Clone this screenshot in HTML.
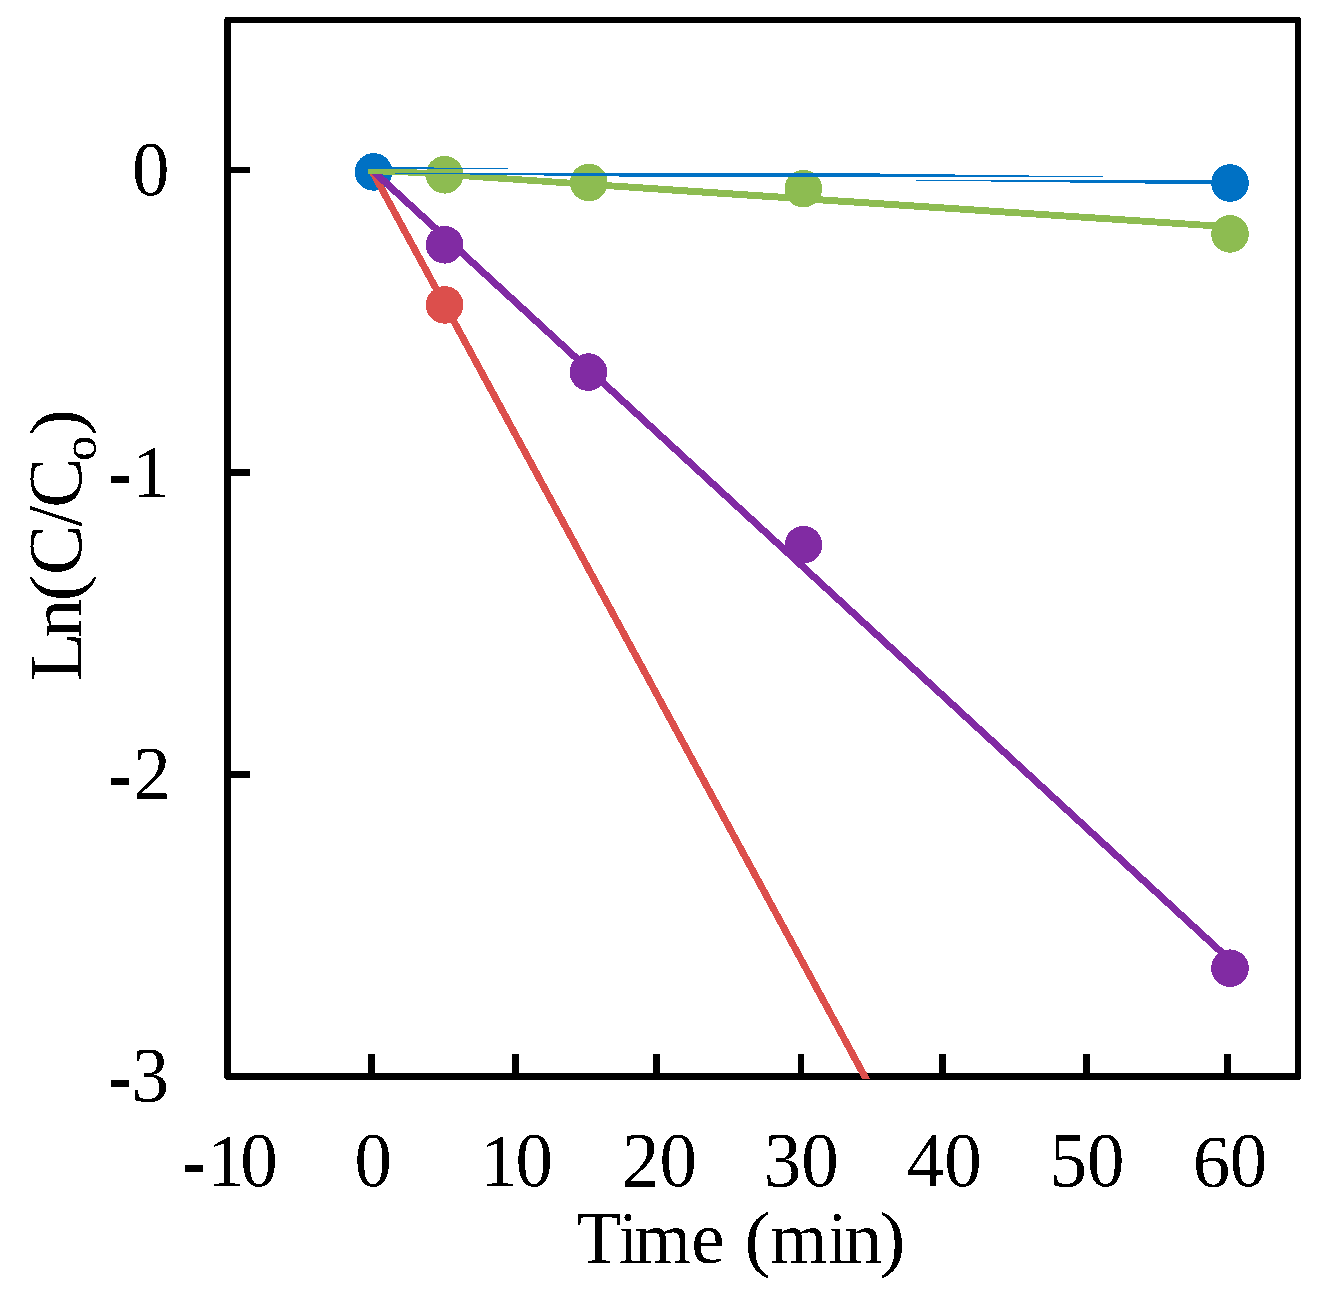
<!DOCTYPE html>
<html>
<head>
<meta charset="utf-8">
<title>Ln(C/Co) vs Time</title>
<style>
  html, body { margin: 0; padding: 0; background: #ffffff; }
  body { width: 1322px; height: 1289px; overflow: hidden; }
  svg { display: block; }
  text { font-family: "Liberation Serif", serif; fill: #000; }
</style>
</head>
<body>
<svg width="1322" height="1289" viewBox="0 0 1322 1289">
  <defs>
    <clipPath id="plotclip"><rect x="224" y="17" width="1077" height="1062"/></clipPath>
    <filter id="bw" x="-10%" y="-10%" width="120%" height="120%" color-interpolation-filters="sRGB">
      <feComponentTransfer><feFuncA type="discrete" tableValues="0 1"/></feComponentTransfer>
    </filter>
  </defs>
  <rect x="0" y="0" width="1322" height="1289" fill="#ffffff"/>

  <!-- axis frame -->
  <g fill="#000000" shape-rendering="crispEdges">
    <path fill-rule="evenodd" d="M225,17 H1300 V18 H1301 V1079 H1300 V1080 H226 V1079 H225 V1078 H224 V19 H225 Z M231,23 H1295 V1073 H231 Z"/>
    <!-- x ticks -->
    <rect x="368" y="1054" width="7" height="20"/>
    <rect x="512" y="1054" width="7" height="20"/>
    <rect x="653" y="1054" width="7" height="20"/>
    <rect x="798" y="1054" width="6" height="20"/>
    <rect x="939" y="1054" width="7" height="20"/>
    <rect x="1083" y="1054" width="7" height="20"/>
    <rect x="1224" y="1054" width="7" height="20"/>
    <!-- y ticks -->
    <rect x="230" y="167" width="20" height="6"/>
    <rect x="230" y="469" width="20" height="7"/>
    <rect x="230" y="771" width="20" height="7"/>
  </g>

  <!-- markers -->
  <g shape-rendering="crispEdges">
    <circle cx="444.6" cy="304.9" r="18.8" fill="#DC4F4C"/>
    <circle cx="444.6" cy="244.8" r="18.8" fill="#812BA3"/>
    <circle cx="588.4" cy="372.1" r="18.8" fill="#812BA3"/>
    <circle cx="803.5" cy="544.7" r="18.8" fill="#812BA3"/>
    <circle cx="1230" cy="968.2" r="18.8" fill="#812BA3"/>
    <circle cx="444.6" cy="174.8" r="18.8" fill="#8DBC51"/>
    <circle cx="588.8" cy="182.5" r="18.8" fill="#8DBC51"/>
    <circle cx="803.4" cy="188.6" r="18.8" fill="#8DBC51"/>
    <circle cx="1230" cy="233.9" r="18.8" fill="#8DBC51"/>
    <circle cx="373.6" cy="171.9" r="18.8" fill="#0071C4"/>
    <circle cx="1230" cy="183" r="18.8" fill="#0071C4"/>
  </g>

  <!-- trend lines -->
  <g shape-rendering="crispEdges" fill="none" stroke-width="6.7" clip-path="url(#plotclip)">
    <line x1="372.3" y1="171.5" x2="872.3" y2="1090.4" stroke="#DC4F4C" stroke-width="7"/>
    <line x1="373.9" y1="171.7" x2="1230" y2="960.1" stroke="#812BA3" stroke-width="7.1"/>
    <polygon points="368,169.2 412,169.2 1230,223.5 1230,230.3 700,195.4 415,175.8 368,173.9" fill="#8DBC51" stroke="none"/>
  </g>
  <g shape-rendering="crispEdges" fill="#0071C4">
    <!-- slab 1 -->
    <rect x="380" y="167" width="54" height="2"/>
    <rect x="434" y="168" width="74" height="1"/>
    <!-- slab 2 -->
    <rect x="395" y="173" width="485" height="1"/>
    <rect x="469.5" y="174" width="485.3" height="1"/>
    <rect x="544.2" y="175" width="484.5" height="1"/>
    <rect x="619" y="176" width="484" height="1"/>
    <!-- slab 3 -->
    <rect x="916" y="180" width="314" height="1"/>
    <rect x="991" y="181" width="239" height="1"/>
    <rect x="1070" y="182" width="160" height="1"/>
    <rect x="1145" y="183" width="85" height="1"/>
  </g>

  <g filter="url(#bw)">
  <!-- x tick labels -->
  <g font-size="75" text-anchor="middle">
    <text x="226" y="1186.3">1</text><text transform="translate(259.05,1186.2) scale(1,1.035)">0</text>
    <text transform="translate(373.3,1186.2) scale(1,1.035)">0</text>
    <text x="498.8" y="1186.3">1</text><text transform="translate(534.35,1186.2) scale(1,1.035)">0</text>
    <text transform="translate(659.4,1186.2) scale(1,1.035)">20</text>
    <text transform="translate(801.3,1186.2) scale(1,1.035)">30</text>
    <text transform="translate(944.2,1186.2) scale(1,1.035)">40</text>
    <text transform="translate(1087.1,1186.2) scale(1,1.035)">50</text>
    <text x="1211.5" y="1187">6</text><text transform="translate(1248.55,1186.2) scale(1,1.035)">0</text>
  </g>
  <!-- y tick labels -->
  <g font-size="75" text-anchor="end">
    <text transform="translate(169.4,195.2) scale(1,1.035)">0</text>
    <text x="170" y="497">1</text>
    <text transform="translate(170.8,798.8) scale(1,1.02)">2</text>
    <text transform="translate(169,1101.4) scale(1,1.035)">3</text>
  </g>
  <!-- minus signs -->
  <g fill="#000">
    <rect x="184.6" y="1164.6" width="18.6" height="7.4"/>
    <rect x="110.9" y="475.9" width="18.1" height="7.1"/>
    <rect x="110.9" y="777.9" width="18.1" height="7.1"/>
    <rect x="110.9" y="1079.9" width="18.1" height="7.1"/>
  </g>
  <!-- axis titles -->
  <g font-size="75">
    <text transform="translate(576.56,1262.8) scale(0.975,1)">T</text>
    <text transform="translate(618.96,1262.8) scale(0.9,1)">i</text>
    <text transform="translate(634.35,1262.8) scale(0.972,1)">m</text>
    <text transform="translate(691.19,1262.8)">e</text>
    <text transform="translate(744.56,1262.8) scale(1.04,1)">(</text>
    <text transform="translate(770.5,1262.8) scale(0.972,1)">m</text>
    <text transform="translate(828.16,1262.8) scale(0.9,1)">i</text>
    <text transform="translate(843.98,1262.8) scale(1.02,1)">n</text>
    <text transform="translate(879.25,1262.8) scale(1.05,1)">)</text>
  </g>
  <g transform="translate(80.9,545.5) rotate(-90)" font-size="75">
    <text transform="translate(-135.71,0) scale(1.07,1)">L</text>
    <text transform="translate(-92.19,0) scale(1.039,1)">n</text>
    <text transform="translate(-55.93,0) scale(1.07,1)">(</text>
    <text transform="translate(-29.53,0) scale(1,1.02)">C</text>
    <text transform="translate(18.63,0) scale(1.01,1.04)">/</text>
    <text transform="translate(37.72,0) scale(1,1.02)">C</text>
    <text transform="translate(84.43,14.6) scale(1.03,0.98)" font-size="49">o</text>
    <text transform="translate(109.58,0) scale(1.085,1)">)</text>
  </g>
  </g>
</svg>
</body>
</html>
